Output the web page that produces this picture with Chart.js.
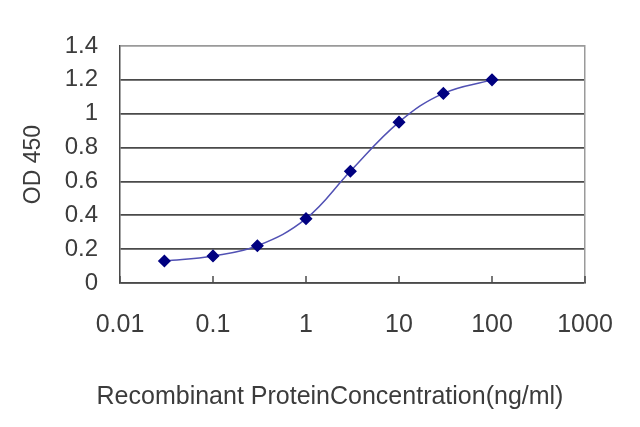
<!DOCTYPE html>
<html>
<head>
<meta charset="utf-8">
<title>OD 450 vs concentration</title>
<script src="https://cdn.jsdelivr.net/npm/chart.js@4/dist/chart.umd.min.js"></script>
<style>
    html, body { margin: 0; padding: 0; background: #fff; }
    #wrap { width: 640px; height: 427px; }
</style>
</head>
<body>
<div id="wrap"><canvas id="odChart" width="640" height="427"></canvas></div>
<script>
// ── Data ──────────────────────────────────────────────────
var concentrations = [0.03, 0.1, 0.3, 1, 3, 10, 30, 100];
var odValues       = [0.13, 0.16, 0.22, 0.38, 0.66, 0.95, 1.12, 1.20];
var xTickValues    = [0.01, 0.1, 1, 10, 100, 1000];
var xTickLabels    = ['0.01', '0.1', '1', '10', '100', '1000'];
var yTickLabels    = ['0', '0.2', '0.4', '0.6', '0.8', '1', '1.2', '1.4'];

(function () {
    'use strict';

    var textColor = '#3c3c3c';
    var gridDark  = '#4a4a4a';
    var gridLight = '#9a9a9a';
    var family    = '"Liberation Sans", Arial, sans-serif';

    var points = concentrations.map(function (c, i) {
        return { x: c, y: odValues[i] };
    });

    // short inward tick marks on the bottom axis, like the old spreadsheet chart
    var innerTicks = {
        id: 'innerTicks',
        afterDatasetsDraw: function (chart) {
            var xs = chart.scales.x;
            var ctx = chart.ctx;
            var bottom = chart.chartArea.bottom;
            ctx.save();
            ctx.strokeStyle = gridDark;
            ctx.lineWidth = 1.5;
            xs.ticks.forEach(function (t) {
                var px = xs.getPixelForValue(t.value);
                ctx.beginPath();
                ctx.moveTo(px, bottom);
                ctx.lineTo(px, bottom - 7);
                ctx.stroke();
            });
            ctx.restore();
        }
    };

    new Chart(document.getElementById('odChart'), {
        type: 'line',
        data: {
            datasets: [{
                data: points,
                borderColor: '#5151b4',
                borderWidth: 1.5,
                tension: 0.4,
                pointStyle: 'rectRot',
                pointRadius: 5.5,
                pointBackgroundColor: '#000080',
                pointBorderColor: '#000080',
                yAxisID: 'y'
            }]
        },
        options: {
            responsive: false,
            animation: false,
            devicePixelRatio: 1,
            layout: { padding: { left: 20, right: 0, top: 46, bottom: 0 } },
            plugins: {
                legend: { display: false },
                tooltip: { enabled: false },
                title: {
                    display: true,
                    position: 'bottom',
                    text: 'Recombinant ProteinConcentration(ng/ml)',
                    color: textColor,
                    font: { family: family, size: 25, weight: 'normal' },
                    padding: { top: 0, bottom: 15 }
                }
            },
            scales: {
                x: {
                    type: 'logarithmic',
                    min: 0.01,
                    max: 1000,
                    afterBuildTicks: function (scale) {
                        scale.ticks = xTickValues.map(function (v) { return { value: v }; });
                    },
                    afterFit: function (scale) { scale.height = 99; },
                    grid: { drawOnChartArea: false, drawTicks: false },
                    border: { color: gridDark, width: 1.5 },
                    ticks: {
                        padding: 27,
                        autoSkip: false,
                        maxRotation: 0,
                        color: textColor,
                        font: { family: family, size: 25 },
                        callback: function (v, i) { return xTickLabels[i]; }
                    }
                },
                y: {
                    min: 0,
                    max: 1.4,
                    afterFit: function (scale) { scale.width = 100; },
                    grid: {
                        drawTicks: false,
                        lineWidth: 1.8,
                        color: function (c) {
                            return c.tick && c.tick.value > 1.3 ? gridLight : gridDark;
                        }
                    },
                    border: { color: gridDark, width: 1.5 },
                    ticks: {
                        stepSize: 0.2,
                        padding: 22,
                        color: textColor,
                        font: { family: family, size: 24 },
                        callback: function (v, i) { return yTickLabels[i]; }
                    },
                    title: {
                        display: true,
                        text: 'OD 450',
                        color: textColor,
                        font: { family: family, size: 23 },
                        padding: { top: 0, bottom: 0 }
                    }
                },
                // empty right axis only reserves the margin and draws the light frame edge
                yRight: {
                    position: 'right',
                    min: 0,
                    max: 1.4,
                    afterFit: function (scale) { scale.width = 55; },
                    grid: { drawOnChartArea: false, drawTicks: false },
                    border: { color: gridLight, width: 1.5 },
                    ticks: { display: false }
                }
            }
        },
        plugins: [innerTicks]
    });
}());
</script>
</body>
</html>
